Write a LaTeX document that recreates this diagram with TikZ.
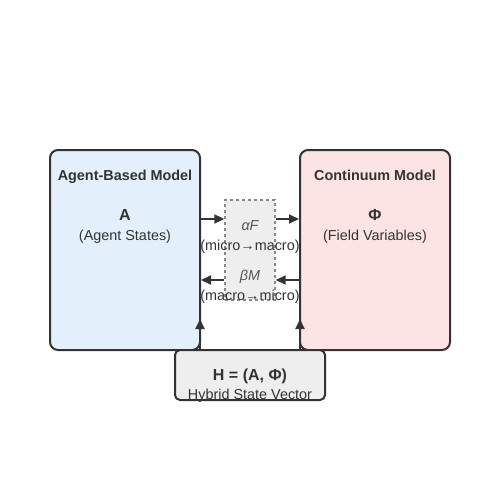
\documentclass[tikz,border=0pt]{standalone}
\usepackage{fontspec}
\setmainfont{Liberation Sans}
\usetikzlibrary{arrows.meta}
\definecolor{edge}{HTML}{333333}
\definecolor{abmfill}{HTML}{E3F0FC}
\definecolor{confill}{HTML}{FDE4E4}
\definecolor{midfill}{HTML}{EEEEEE}
\definecolor{txt}{HTML}{333333}
\definecolor{midtxt}{HTML}{555555}
\definecolor{dashc}{HTML}{888888}
\begin{document}
\begin{tikzpicture}[x=1pt,y=-1pt,
  panel/.style={draw=edge,line width=2pt,rounded corners=8pt,minimum width=150pt,minimum height=200pt,inner sep=0pt},
  coupler/.style={draw=dashc,dashed,line width=1.4pt,fill=midfill,minimum width=50pt,minimum height=100pt,inner sep=0pt},
  hybridbox/.style={draw=edge,line width=2pt,rounded corners=5pt,fill=midfill,minimum width=150pt,minimum height=50pt,inner sep=0pt},
  lbl/.style={inner sep=0pt,anchor=base,text=txt,font=\fontsize{14.4}{16}\selectfont},
  ttl/.style={lbl,font=\fontsize{14.4}{16}\selectfont\bfseries},
  big/.style={lbl,font=\fontsize{16}{18}\selectfont\bfseries},
  mlbl/.style={lbl,text=midtxt},
  conn/.style={draw=edge,line width=2pt,-{Triangle[length=10pt,width=9pt]}}
]
\useasboundingbox (0,0) rectangle (500,500);
\fill[white] (0,0) rectangle (500,500);
\node[panel,fill=abmfill] (abm) at (125,250) {};
\node[panel,fill=confill] (con) at (375,250) {};
\node[coupler] (mid) at (250,250) {};
\node[hybridbox] (hyb) at (250,375) {};

\node[ttl] (abmt) at (125,180) {Agent-Based Model};
\node[big] (abma) at (125,220) {A};
\node[lbl] (abms) at (125,240) {(Agent States)};
\node[ttl] (cont) at (375,180) {Continuum Model};
\node[big] (conp) at (375,220) {Φ};
\node[lbl] (cons) at (375,240) {(Field Variables)};

\node[mlbl] (af) at (250,230) {\itshape αF};
\node[lbl] (mm1) at (250,250) {(micro→macro)};
\node[mlbl] (bm) at (250,280) {\itshape βM};
\node[lbl] (mm2) at (250,300) {(macro→micro)};

\node[big] (ht) at (250,380) {H = (A, Φ)};
\node[lbl] (hs) at (250,399) {Hybrid State Vector};

\draw[conn] ([yshift=31pt]abm.east) -- ([yshift=31pt]mid.west);
\draw[conn] ([yshift=31pt]mid.east) -- ([yshift=31pt]con.west);
\draw[conn] ([yshift=-30pt]con.west) -- ([yshift=-30pt]mid.east);
\draw[conn] ([yshift=-30pt]mid.west) -- ([yshift=-30pt]abm.east);
\draw[conn] ([xshift=-50pt]hyb.north) -- ++(0,-30);
\draw[conn] ([xshift=50pt]hyb.north) -- ++(0,-30);
\end{tikzpicture}
\end{document}
